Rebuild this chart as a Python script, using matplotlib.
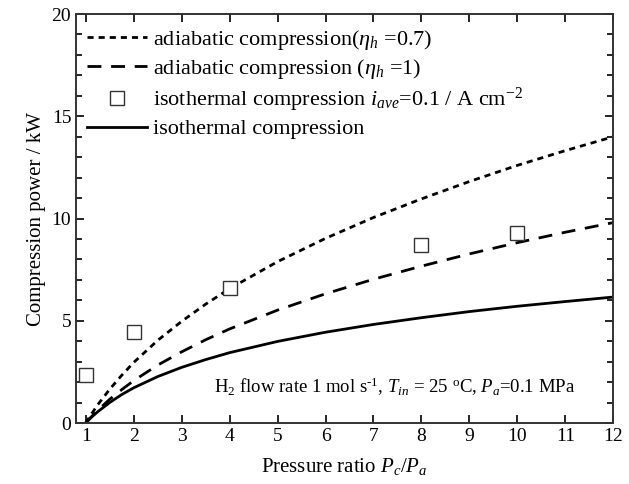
import matplotlib
matplotlib.use("Agg")
import matplotlib.pyplot as plt
from matplotlib.ticker import MultipleLocator

plt.rcParams['font.family'] = ['Liberation Serif', 'DejaVu Serif']
plt.rcParams['mathtext.fontset'] = 'custom'
plt.rcParams['mathtext.rm'] = 'Liberation Serif'
plt.rcParams['mathtext.it'] = 'Liberation Serif:italic'
plt.rcParams['mathtext.bf'] = 'Liberation Serif:bold'

# data
ratio = [1, 1.1, 1.25, 1.5, 1.75, 2, 2.5, 3, 3.5, 4, 5, 6, 7, 8, 9, 10, 11, 12]
adiab_07 = [0, 0.37, 0.89, 1.65, 2.33, 2.96, 4.04, 4.97, 5.81, 6.57, 7.89, 9.03,
            10.05, 10.96, 11.81, 12.6, 13.32, 14.0]
adiab_1 = [0, 0.26, 0.62, 1.16, 1.63, 2.07, 2.83, 3.48, 4.07, 4.6, 5.52, 6.32,
           7.03, 7.67, 8.27, 8.82, 9.33, 9.8]
iso = [0, 0.24, 0.55, 1.0, 1.39, 1.72, 2.27, 2.72, 3.1, 3.44, 3.99, 4.44,
       4.82, 5.15, 5.45, 5.71, 5.94, 6.16]
sq_x = [1, 2, 4, 8, 10]
sq_y = [2.35, 4.45, 6.6, 8.7, 9.3]

fig = plt.figure(figsize=(6.29, 4.84), dpi=100)
ax = fig.add_axes([0.121, 0.126, 0.854, 0.845])

ax.plot(ratio, adiab_07, color='black', lw=2.0, linestyle=(0, (2.2, 1.8)),
        label=r'adiabatic compression($\eta_h$ =0.7)')
ax.plot(ratio, adiab_1, color='black', lw=2.0, linestyle=(0, (5, 3.5)),
        label=r'adiabatic compression ($\eta_h$ =1)')
ax.plot(sq_x, sq_y, linestyle='none', marker='s', markersize=9.5,
        markerfacecolor='white', markeredgecolor='#333333', markeredgewidth=1.0,
        label=r'isothermal compression $i_{ave}$=0.1 / A cm$^{-2}$')
ax.plot(ratio, iso, color='black', lw=2.0, label='isothermal compression')

ax.set_xlim(0.8, 12)
ax.set_ylim(0, 20)
ax.xaxis.set_major_locator(MultipleLocator(1))
ax.yaxis.set_major_locator(MultipleLocator(5))
ax.yaxis.set_minor_locator(MultipleLocator(1))
ax.tick_params(which='both', direction='in', top=True, right=True, labelsize=14, width=1.2)
ax.tick_params(which='major', length=6)
ax.tick_params(which='minor', length=4)
for s in ax.spines.values():
    s.set_linewidth(1.4)
    s.set_color('#333333')

ax.set_xlabel(r'Pressure ratio $P_c$/$P_a$', fontsize=15, labelpad=8)
ax.set_ylabel('Compression power / kW', fontsize=15, labelpad=4)

ax.text(11.2, 1.2, r'H$_2$ flow rate 1 mol s$^{\text{-1}}$, $T_{in}$ = 25 $^{\rm o}$C, $P_a$=0.1 MPa',
        ha='right', va='bottom', fontsize=13.5)

ax.legend(loc='upper left', frameon=False, fontsize=16, handlelength=2.7,
          handletextpad=0.25, labelspacing=0.22, borderaxespad=0.1,
          bbox_to_anchor=(0.0, 0.993))

fig.savefig('out.png', dpi=100)
